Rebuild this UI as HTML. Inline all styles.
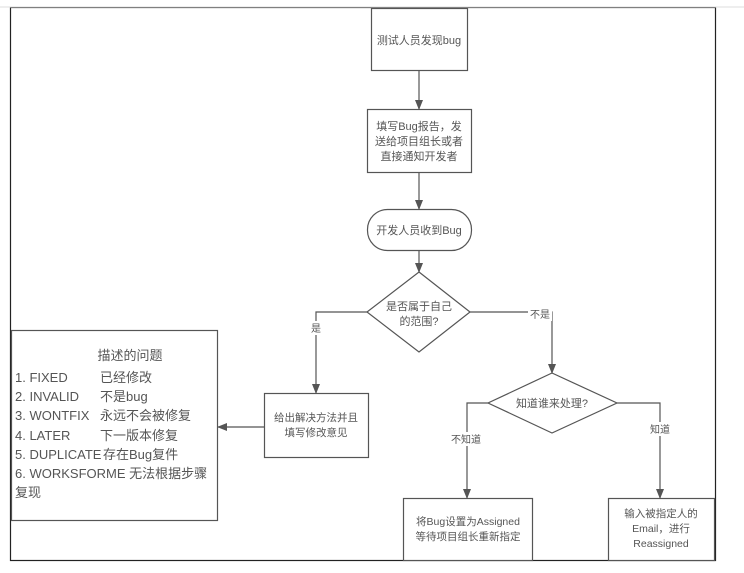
<!DOCTYPE html>
<html><head><meta charset="utf-8"><style>
body{margin:0;background:#fff;}
svg text{font-family:"Liberation Sans","Noto Sans CJK SC",sans-serif;fill:#555;}
</style></head><body>
<svg width="744" height="568" xmlns="http://www.w3.org/2000/svg">
<defs><marker id="a" markerWidth="10" markerHeight="10" refX="9" refY="5" orient="auto" markerUnits="userSpaceOnUse"><path d="M0,1 L10,5 L0,9 Z" fill="#555"/></marker></defs>
<rect x="10.5" y="7.5" width="705" height="553" fill="none" stroke="#222" stroke-width="1.2"/>
<line x1="0" y1="7" x2="744" y2="7" stroke="#ddd"/>
<g fill="#fff" stroke="#555" stroke-width="1.2">
<rect x="371.5" y="8.5" width="96" height="62"/>
<rect x="367.5" y="109.5" width="104" height="63"/>
<rect x="367.5" y="209.5" width="104" height="41" rx="20"/>
<polygon points="419,272 470,312 419,352 367,312"/>
<polygon points="552,373 617,403 552,433 488,403"/>
<rect x="264.5" y="393.5" width="104" height="64"/>
<rect x="11.5" y="330.5" width="206" height="190"/>
<rect x="403.5" y="498.5" width="129" height="62"/>
<rect x="608.5" y="498.5" width="106" height="62"/>
</g>
<g stroke="#555" stroke-width="1.2" fill="none" marker-end="url(#a)">
<line x1="419" y1="70" x2="419" y2="109"/>
<line x1="419" y1="172" x2="419" y2="209"/>
<line x1="419" y1="250" x2="419" y2="272"/>
<polyline points="367,312 316,312 316,393"/>
<polyline points="470,312 552,312 552,373"/>
<polyline points="488,403 467,403 467,498"/>
<polyline points="617,403 660,403 660,498"/>
<line x1="264" y1="427" x2="218" y2="427"/>
</g>
<g fill="#fff">
<rect x="309" y="321" width="14" height="14"/>
<rect x="528" y="307" width="24" height="14"/>
<rect x="450" y="432" width="34" height="14"/>
<rect x="648" y="422" width="24" height="14"/>
</g>
<g font-size="11" text-anchor="middle">
<text x="419" y="44">测试人员发现bug</text>
<text x="419" y="130">填写Bug报告，发</text>
<text x="419" y="145">送给项目组长或者</text>
<text x="419" y="160">直接通知开发者</text>
<text x="419" y="234">开发人员收到Bug</text>
<text x="419" y="310">是否属于自己</text>
<text x="419" y="325">的范围?</text>
<text x="316" y="332" font-size="10">是</text>
<text x="540" y="318" font-size="10">不是</text>
<text x="552" y="407">知道谁来处理?</text>
<text x="466" y="443" font-size="10">不知道</text>
<text x="660" y="433" font-size="10">知道</text>
<text x="316" y="421" font-size="10.5">给出解决方法并且</text>
<text x="316" y="436" font-size="10.5">填写修改意见</text>
<text x="468" y="525" font-size="10.5">将Bug设置为Assigned</text>
<text x="468" y="540" font-size="10.5">等待项目组长重新指定</text>
<text x="661" y="517" font-size="10.5">输入被指定人的</text>
<text x="661" y="532" font-size="10.5">Email，进行</text>
<text x="661" y="547" font-size="10.5">Reassigned</text>
<text x="130" y="360" font-size="13">描述的问题</text>
</g>
<g font-size="13">
<text x="15" y="382">1. FIXED</text><text x="100" y="382">已经修改</text>
<text x="15" y="401">2. INVALID</text><text x="100" y="401">不是bug</text>
<text x="15" y="420">3. WONTFIX</text><text x="100" y="420">永远不会被修复</text>
<text x="15" y="440">4. LATER</text><text x="100" y="440">下一版本修复</text>
<text x="15" y="459">5. DUPLICATE</text><text x="103" y="459">存在Bug复件</text>
<text x="15" y="478">6. WORKSFORME 无法根据步骤</text>
<text x="15" y="497">复现</text>
</g>
</svg>
</body></html>
